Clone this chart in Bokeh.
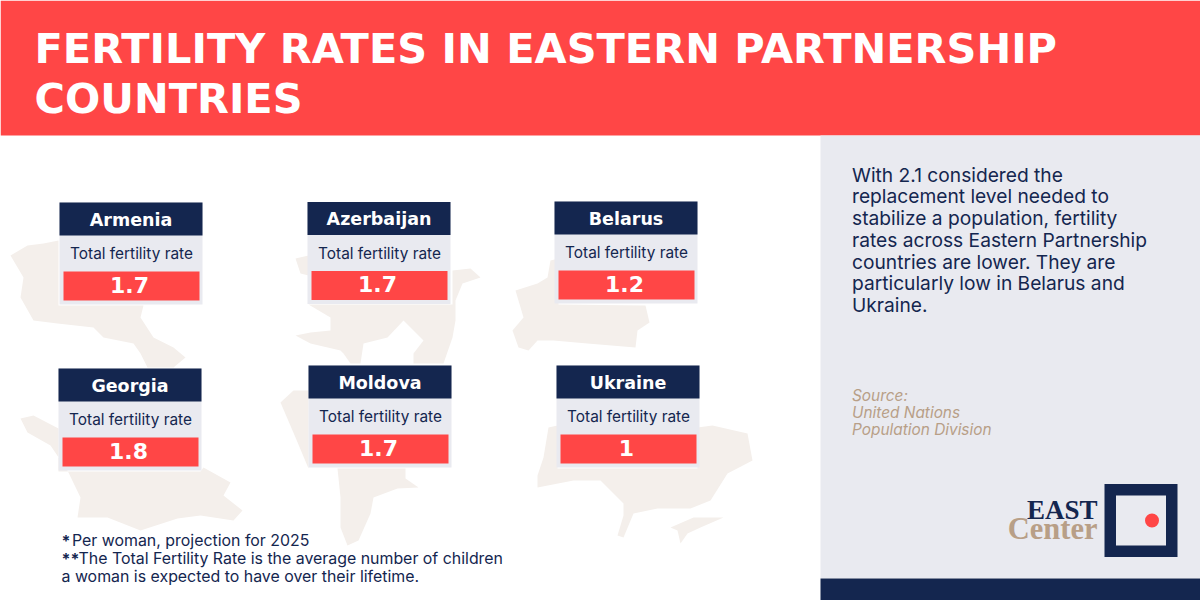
from bokeh.plotting import figure
from bokeh.models import ColumnDataSource, Range1d
from bokeh.core.properties import value
from bokeh.embed import file_html
from bokeh.resources import INLINE

# chart values
countries = ['Armenia', 'Azerbaijan', 'Belarus', 'Georgia', 'Moldova', 'Ukraine']
rates = ['1.7', '1.7', '1.2', '1.8', '1.7', '1']
rate_label = 'Total fertility rate'

title_lines = ['FERTILITY RATES IN EASTERN PARTNERSHIP', 'COUNTRIES']
body_lines = ['With 2.1 considered the', 'replacement level needed to', 'stabilize a population, fertility',
              'rates across Eastern Partnership', 'countries are lower. They are',
              'particularly low in Belarus and', 'Ukraine.']
source_lines = ['Source:', 'United Nations', 'Population Division']
note_lines = ['Per woman, projection for 2025', 'The Total Fertility Rate is the average number of children',
              'a woman is expected to have over their lifetime.']

# card layout, top left corner of each card in page pixels
card_left = [59, 307, 554, 58, 308, 556]
card_top = [202, 201.5, 201, 368, 365, 365]

# background country outlines, rough shapes
map_xs = [
    [10, 27, 43, 58, 58, 143, 140, 153, 173, 185, 173, 147, 140, 133, 103, 93, 57, 33, 20, 23],
    [20, 33, 58, 58, 200, 203, 230, 223, 242, 233, 200, 177, 140, 107, 77, 80, 67, 50, 27],
    [295, 308, 308, 300],
    [308, 452, 452, 470, 480, 462, 455, 455, 452, 443, 413, 413, 423, 403, 387, 363, 360, 350, 343, 340, 310, 295, 310, 330, 330],
    [515, 537, 547, 550, 558, 558, 645, 649, 637, 635, 587, 553, 537, 528, 518, 512, 523],
    [280, 293, 308, 308, 405, 405, 418, 397, 373, 370, 358, 347, 340, 340, 337, 308, 295],
    [548, 557, 557, 697, 697, 712, 747, 752, 727, 710, 690, 657, 633, 623, 617, 623, 623, 600, 573, 537, 537, 543],
    [670, 693, 723, 700, 687, 680, 677],
]
map_ys = [
    [255, 245, 243, 240, 305, 305, 317, 337, 347, 357, 367, 367, 353, 343, 337, 327, 323, 320, 297, 277],
    [418, 415, 428, 471, 471, 467, 482, 495, 510, 520, 515, 518, 530, 517, 517, 497, 470, 445, 432],
    [258, 255, 275, 273],
    [304, 304, 270, 268, 277, 283, 300, 320, 337, 363, 363, 353, 340, 320, 337, 343, 363, 363, 353, 350, 343, 335, 332, 330, 317],
    [290, 283, 277, 260, 258, 304, 305, 322, 330, 347, 343, 340, 340, 350, 347, 330, 317],
    [402, 390, 390, 468, 468, 478, 487, 488, 497, 513, 540, 545, 527, 497, 468, 468, 437],
    [427, 425, 468, 468, 427, 425, 433, 460, 473, 500, 508, 508, 513, 537, 535, 515, 503, 480, 480, 487, 475, 457],
    [527, 517, 517, 527, 533, 543, 530],
]

NAVY = '#14264f'
RED = '#ff4646'
PANEL = '#e9eaf0'
LAND = '#f4efeb'
TAN = '#b89f87'
BODY_FONT = value('Inter')
HEAVY_FONT = value('DejaVu Sans')
LOGO_FONT = value('Liberation Serif')

# ranges are page pixels
p = figure(width=1200, height=600, output_backend='svg', toolbar_location=None,
           x_range=Range1d(0, 1200), y_range=Range1d(600, 0), min_border=0)
p.axis.visible = False
p.grid.visible = False
p.outline_line_color = None
p.background_fill_color = 'white'
p.border_fill_color = 'white'

# page bands
p.quad(left=[0], right=[1200], top=[0], bottom=[135], fill_color=RED, line_color=None)
p.quad(left=[820], right=[1200], top=[135], bottom=[578], fill_color=PANEL, line_color=None)
p.quad(left=[820], right=[1200], top=[578], bottom=[600], fill_color=NAVY, line_color=None)

p.patches(map_xs, map_ys, fill_color=LAND, line_color=None)

cards = ColumnDataSource(dict(
    left=card_left,
    top=card_top,
    right=[x + 143 for x in card_left],
    head_bottom=[y + 33 for y in card_top],
    bottom=[y + 102 for y in card_top],
    red_left=[x + 4 for x in card_left],
    red_right=[x + 140 for x in card_left],
    red_top=[y + 69 for y in card_top],
    red_bottom=[y + 98 for y in card_top],
    name_x=[x + 71.5 for x in card_left],
    name_y=[y + 17 for y in card_top],
    label_x=[x + 72 for x in card_left],
    label_y=[y + 51 for y in card_top],
    rate_x=[x + 70 for x in card_left],
    rate_y=[y + 82 for y in card_top],
    country=countries,
    rate=rates,
    label=[rate_label] * len(countries),
))

p.quad(left='left', right='right', top='top', bottom='bottom', source=cards, fill_color=PANEL, line_color=None)
p.quad(left='left', right='right', top='top', bottom='head_bottom', source=cards, fill_color=NAVY, line_color=None)
p.quad(left='red_left', right='red_right', top='red_top', bottom='red_bottom', source=cards, fill_color=RED, line_color=None)

p.text(x='name_x', y='name_y', text='country', source=cards, text_color='white', text_font=HEAVY_FONT,
       text_font_style='bold', text_font_size='17.5px', text_align='center', text_baseline='middle')
p.text(x='label_x', y='label_y', text='label', source=cards, text_color=NAVY, text_font=BODY_FONT,
       text_font_size='15.4px', text_align='center', text_baseline='middle')
p.text(x='rate_x', y='rate_y', text='rate', source=cards, text_color='white', text_font=HEAVY_FONT,
       text_font_style='bold', text_font_size='22px', text_align='center', text_baseline='middle')

# title
p.text(x=[34, 34], y=[48, 98], text=title_lines, text_color='white', text_font=HEAVY_FONT,
       text_font_style='bold', text_font_size='41.5px', text_baseline='middle')

# right panel text
body_y = [174, 195, 217, 239, 261, 282, 304]
p.text(x=[851.5] * 7, y=body_y, text=body_lines, text_color=NAVY, text_font=BODY_FONT,
       text_font_size='19.2px', text_baseline='middle')
p.text(x=[851.5] * 3, y=[395, 412, 429], text=source_lines, text_color=TAN, text_font=BODY_FONT,
       text_font_style='italic', text_font_size='15.4px', text_baseline='middle')

# footnotes
p.text(x=[61, 61], y=[540, 558], text=['*', '**'], text_color=NAVY, text_font=BODY_FONT,
       text_font_style='bold', text_font_size='16px', text_baseline='middle')
p.text(x=[71.5, 78, 61], y=[540, 558, 576], text=note_lines, text_color=NAVY, text_font=BODY_FONT,
       text_font_size='15.9px', text_baseline='middle')

# logo
p.quad(left=[1104], right=[1177], top=[483.5], bottom=[556.5], fill_color=NAVY, line_color=None)
p.quad(left=[1115.5], right=[1165.5], top=[495], bottom=[545], fill_color=PANEL, line_color=None)
p.scatter(x=[1151.5], y=[520], size=14, fill_color=RED, line_color=None)
p.text(x=[1097], y=[509], text=['EAST'], text_color=NAVY, text_font=LOGO_FONT, text_font_style='bold',
       text_font_size='27px', text_align='right', text_baseline='middle')
p.text(x=[1097], y=[528], text=['Center'], text_color=TAN, text_font=LOGO_FONT, text_font_style='bold',
       text_font_size='30.5px', text_align='right', text_baseline='middle')

open("out.html", "w").write(file_html(p, INLINE))
